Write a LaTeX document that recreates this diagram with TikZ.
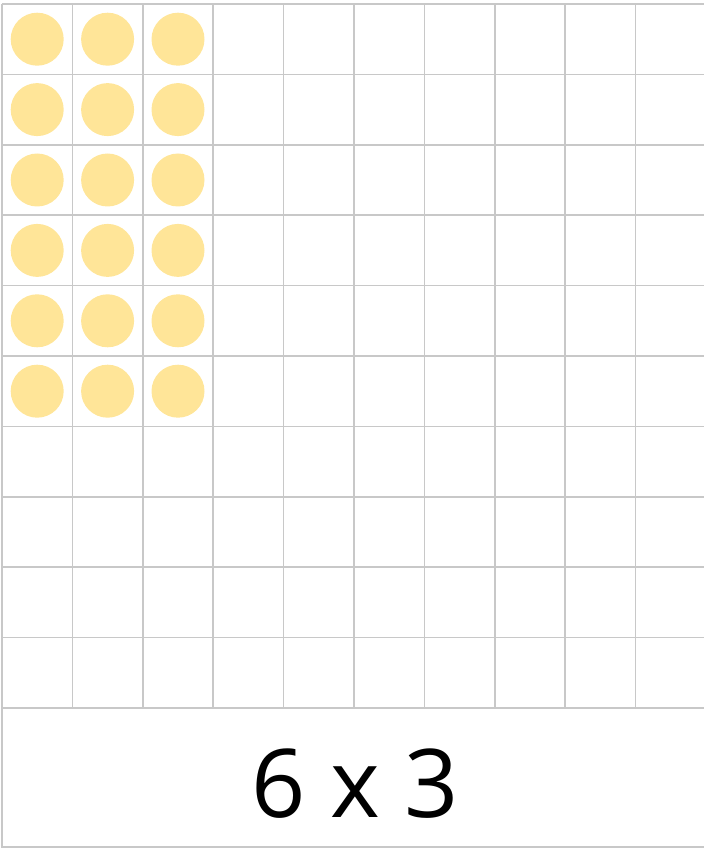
\documentclass[tikz,border=0pt]{standalone}
\usepackage{fontspec}
\setmainfont{Open Sans}
\definecolor{gridgray}{HTML}{C8C8C8}
\definecolor{counter}{HTML}{FFE598}
\begin{document}
\begin{tikzpicture}[line width=0.9pt]
  \useasboundingbox (0.000,0.000) rectangle (14.080,16.960);
  \clip (0.000,0.000) rectangle (14.080,16.960);
  % counters, 6 rows of 3
  \foreach \r in {0,...,5}
    \foreach \c in {0,...,2}
      \fill[counter] (0.744+1.408*\c,16.176-1.408*\r) circle (0.530);
  % grid lines
  \foreach \i in {1,...,9}
    \draw[gridgray] (0.040+1.408*\i,16.880) -- (0.040+1.408*\i,2.800);
  \foreach \j in {0,...,10}
    \draw[gridgray] (0.040,16.880-1.408*\j) -- (14.200,16.880-1.408*\j);
  % answer box
  \draw[gridgray] (0.040,16.880) -- (0.040,0.020) -- (14.200,0.020);
  \node[font=\fontsize{54}{56}\selectfont, inner sep=0pt] (prod) at (7.100,1.280) {6 x 3};
\end{tikzpicture}
\end{document}
